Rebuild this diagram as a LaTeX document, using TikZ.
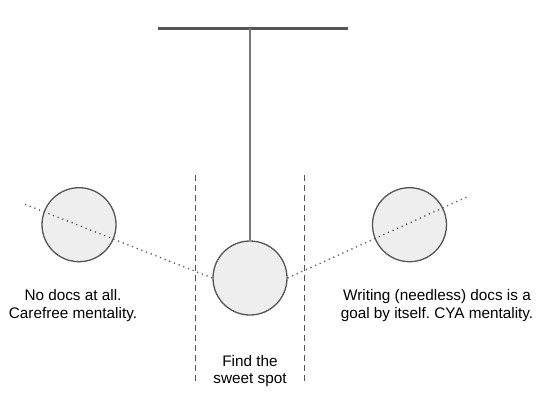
\documentclass[tikz,border=0pt]{standalone}
\usepackage{fontspec}
\setmainfont{Liberation Sans}
\definecolor{linegray}{HTML}{555555}
\definecolor{stringgray}{HTML}{777777}
\definecolor{ballfill}{HTML}{EEEEEE}
\begin{document}
\frenchspacing
\begin{tikzpicture}[x=1pt,y=-1pt,
  ball/.style={circle, draw=linegray, line width=1.3pt, fill=ballfill, minimum size=74pt, inner sep=0pt},
  bar/.style={draw=linegray, line width=3pt},
  stringline/.style={draw=stringgray, line width=2pt},
  guide/.style={draw=linegray, line width=1pt, dash pattern=on 6pt off 4pt},
  swing/.style={draw=linegray, line width=1.3pt, dash pattern=on 1.2pt off 3.8pt},
  label/.style={font=\fontsize{15.3}{17.5}\selectfont\frenchspacing, align=center, inner sep=0pt, text=black}]
\useasboundingbox (0,0) rectangle (546,408);
% top bar and string
\coordinate (barL) at (158,28.3);
\coordinate (barR) at (348,28.3);
\coordinate (pivot) at (250,28.3);
\draw[bar] (barL) -- (barR);
% balls
\node[ball] (center) at (250,278) {};
\node[ball] (left) at (79,224.7) {};
\node[ball] (right) at (409.5,224.7) {};
\draw[stringline] (pivot) -- (center.north);
% dashed guides
\coordinate (gLt) at (195.7,174.5);
\coordinate (gLb) at (195.7,383);
\coordinate (gRt) at (304,174.5);
\coordinate (gRb) at (304,383);
\draw[guide] (gLt) -- (gLb);
\draw[guide] (gRt) -- (gRb);
% dotted swing lines
\coordinate (swL) at (25,204.3);
\coordinate (swR) at (469,196);
\draw[swing] (swL) -- (center.west);
\draw[swing] (center.east) -- (swR);
% labels
\node[label] (tleft) at (73,305.3) {No docs at all.\\Carefree mentality.};
\node[label] (tright) at (437,305.3) {Writing (needless) docs is a\\goal by itself. CYA mentality.};
\node[label] (tmid) at (250,371) {Find the\\sweet spot};
\end{tikzpicture}
\end{document}
